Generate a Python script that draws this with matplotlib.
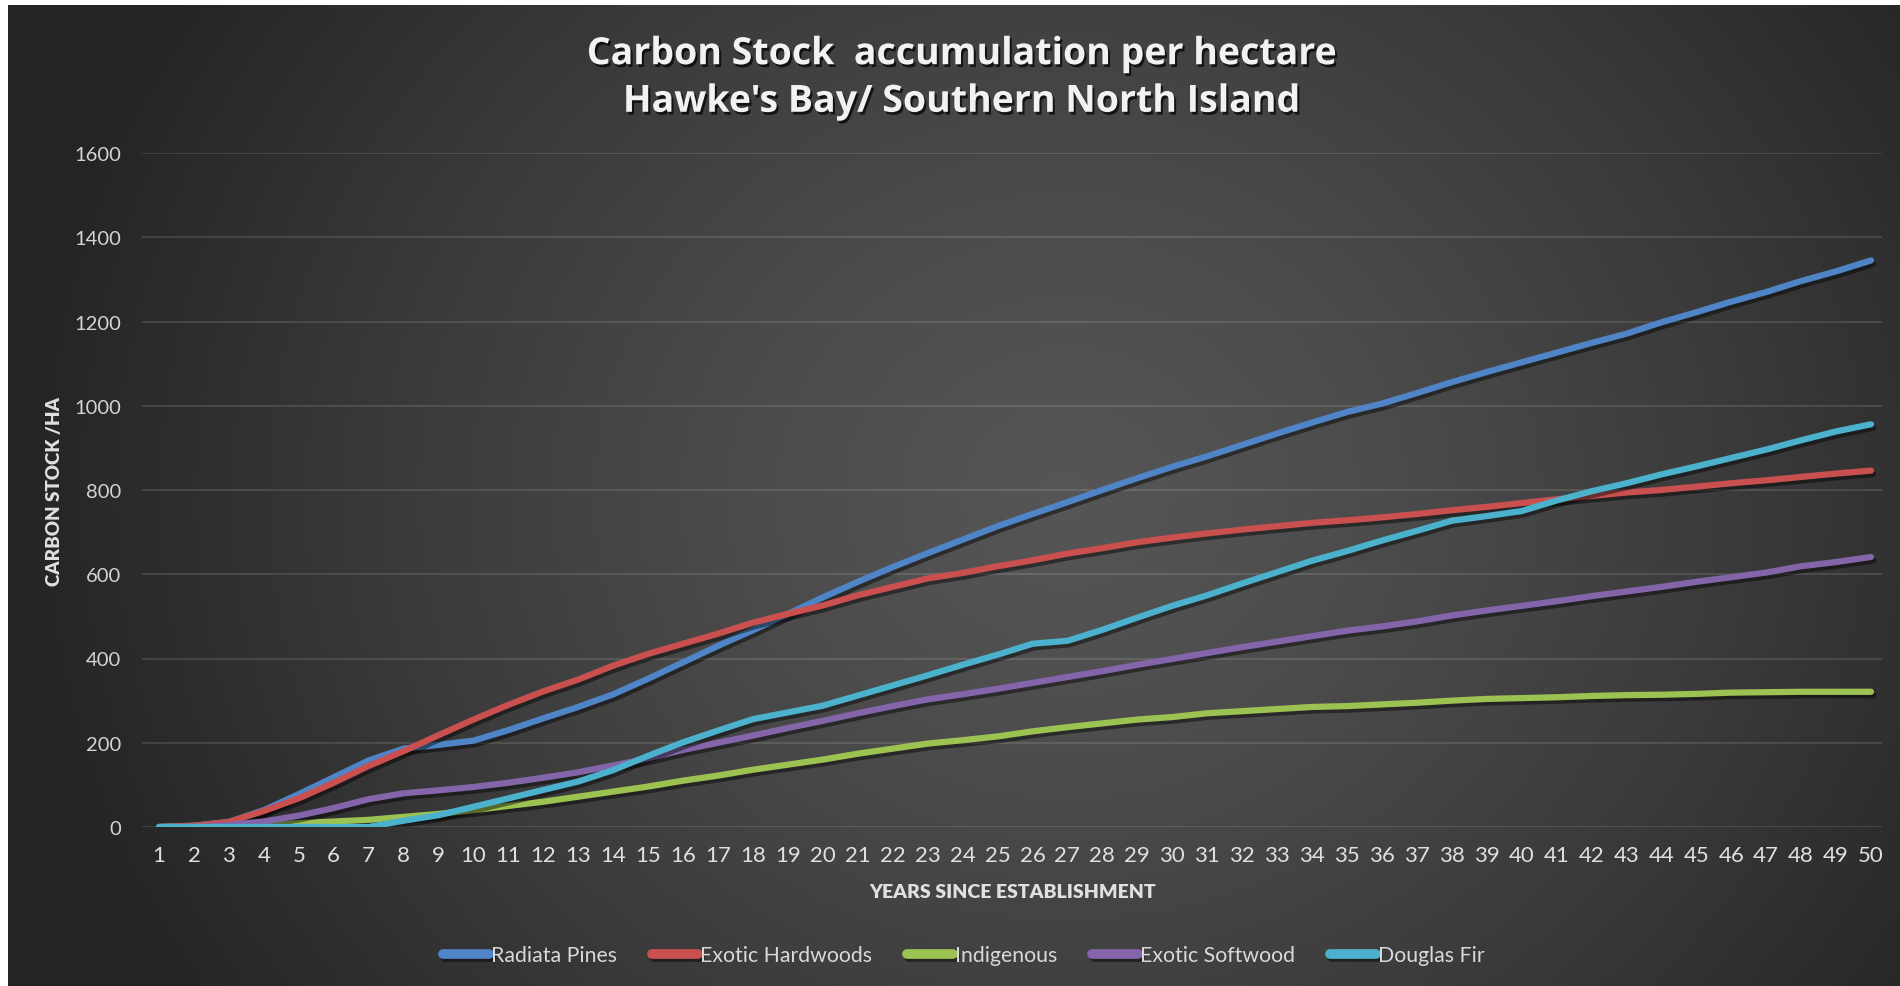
import numpy as np
import matplotlib
matplotlib.use("Agg")
import matplotlib.pyplot as plt
import matplotlib.patheffects as pe

# ---------------- data ----------------
years = list(range(1, 51))

radiata_pines = [0, 3, 12, 40, 78, 118, 158, 186, 195, 205,
                 230, 258, 285, 315, 352, 391, 430, 467, 506, 545,
                 582, 617, 650, 682, 714, 743, 771, 800, 828, 855,
                 880, 907, 934, 960, 985, 1005, 1030, 1056, 1080, 1103,
                 1126, 1149, 1171, 1198, 1222, 1247, 1270, 1296, 1319, 1345]

exotic_hardwoods = [0, 3, 12, 38, 68, 105, 145, 180, 218, 255,
                    290, 322, 350, 383, 411, 435, 459, 485, 506, 526,
                    550, 570, 590, 603, 619, 633, 649, 662, 676, 687,
                    697, 706, 714, 722, 728, 735, 743, 752, 760, 769,
                    778, 786, 794, 800, 808, 816, 823, 831, 839, 846]

indigenous = [0, 0, 2, 5, 9, 13, 17, 24, 31, 40,
              50, 60, 72, 84, 96, 110, 122, 136, 148, 160,
              174, 186, 198, 206, 215, 227, 237, 246, 255, 261,
              270, 275, 280, 285, 287, 291, 295, 300, 304, 306,
              308, 311, 313, 314, 316, 319, 320, 321, 321, 321]

exotic_softwood = [0, 0, 5, 13, 27, 45, 66, 80, 87, 95,
                   105, 117, 130, 146, 163, 183, 200, 217, 235, 252,
                   270, 287, 303, 315, 328, 342, 356, 370, 385, 399,
                   413, 427, 440, 453, 466, 476, 488, 502, 514, 525,
                   536, 548, 559, 570, 582, 593, 604, 619, 629, 641]

douglas_fir = [0, 0, 0, 0, 0, 0, 0, 15, 28, 48,
               68, 88, 108, 135, 169, 201, 229, 256, 272, 288,
               312, 336, 360, 385, 409, 435, 442, 468, 497, 525,
               550, 578, 605, 632, 655, 680, 703, 727, 738, 750,
               775, 797, 816, 837, 856, 876, 896, 918, 939, 956]

series_names = ["Radiata Pines", "Exotic Hardwoods", "Indigenous",
                "Exotic Softwood", "Douglas Fir"]
series_values = [radiata_pines, exotic_hardwoods, indigenous,
                 exotic_softwood, douglas_fir]
series_colors = ["#4f84c7", "#c9504f", "#9cc251", "#8465aa", "#4bb1cc"]

y_ticks = [0, 200, 400, 600, 800, 1000, 1200, 1400, 1600]

title_text = "Carbon Stock  accumulation per hectare\nHawke's Bay/ Southern North Island"
x_label = "YEARS SINCE ESTABLISHMENT"
y_label = "CARBON STOCK /HA"

# ---------------- figure ----------------
W, H = 1900, 987
fig = plt.figure(figsize=(W / 100, H / 100), dpi=100, facecolor="white")

# dark radial-gradient background
bg = fig.add_axes([8 / W, 0, 1 - 8 / W, 1 - 6 / H], zorder=0)
gx = np.linspace(0, 1, 600)
gy = np.linspace(0, 1, 320)
X, Y = np.meshgrid(gx, gy)
d = np.sqrt(((X - 0.56) / 0.55) ** 2 + ((Y - 0.50) / 0.95) ** 2)
d = np.clip(d, 0, 1)
c_in, c_out = 0.335, 0.145
val = c_in + (c_out - c_in) * d ** 1.3
img = np.dstack([val, val, val])
bg.imshow(img, aspect="auto", extent=[0, 1, 0, 1], origin="lower",
          interpolation="bicubic")
bg.set_axis_off()

# plot axes
ax_l, ax_r = 142 / W, 1882 / W
ax_b, ax_t = 1 - 828 / H, 1 - 154 / H
ax = fig.add_axes([ax_l, ax_b, ax_r - ax_l, ax_t - ax_b], zorder=1)
ax.patch.set_alpha(0)

for name, vals, col in zip(series_names, series_values, series_colors):
    ax.plot(years, vals, color=col, lw=4.5, label=name,
            solid_capstyle="round", solid_joinstyle="round",
            path_effects=[pe.SimpleLineShadow(offset=(1.5, -2.5),
                                              shadow_color="black", alpha=0.45),
                          pe.Normal()])

ax.set_xlim(1 - 17 / 34.94, 50 + 11 / 34.94)
ax.set_ylim(0, 1600)
ax.set_yticks(y_ticks)
ax.set_xticks(years)
ax.set_xticklabels([str(y) for y in years])
ax.yaxis.grid(True, color="#ffffff", alpha=0.13, lw=1.3)
ax.set_axisbelow(True)
for s in ax.spines.values():
    s.set_visible(False)
ax.tick_params(axis="both", length=0)
ax.tick_params(axis="y", pad=15, labelsize=14.5, labelcolor="#d4d4d4")
ax.tick_params(axis="x", pad=13, labelsize=16, labelcolor="#e0e0e0")
for t in ax.get_yticklabels():
    t.set_fontfamily(["Lato", "DejaVu Sans"])
for t in ax.get_xticklabels():
    t.set_fontfamily(["Lato", "DejaVu Sans"])

# title
fig.text(0.506, 1 - 79 / H, title_text, ha="center", va="center",
         fontsize=27, fontweight="bold", color="#f2f2f2",
         family=["Open Sans", "DejaVu Sans"], linespacing=1.33,
         path_effects=[pe.withSimplePatchShadow(offset=(1.5, -2),
                                                shadow_rgbFace="black", alpha=0.7)])

# axis labels
fig.text(55 / W, 1 - 491 / H, y_label, rotation=90, ha="center", va="center",
         fontsize=13.5, fontweight="heavy", color="#e0e0e0",
         family=["Lato", "DejaVu Sans"])
fig.text(1013 / W, 1 - 892 / H, x_label, ha="center", va="center",
         fontsize=14, fontweight="heavy", color="#e0e0e0",
         family=["Lato", "DejaVu Sans"])

# legend
leg = fig.legend(loc="center", bbox_to_anchor=(964 / W, 1 - 956 / H), ncol=5,
                 frameon=False, handlelength=2.15, handletextpad=0.1,
                 columnspacing=1.65, prop={"family": "Lato", "size": 15.3})
for t in leg.get_texts():
    t.set_color("#d9d9d9")
for h in leg.get_lines():
    h.set_linewidth(7)
    h.set_solid_capstyle("round")

fig.savefig("out.png", dpi=100, facecolor="white")
